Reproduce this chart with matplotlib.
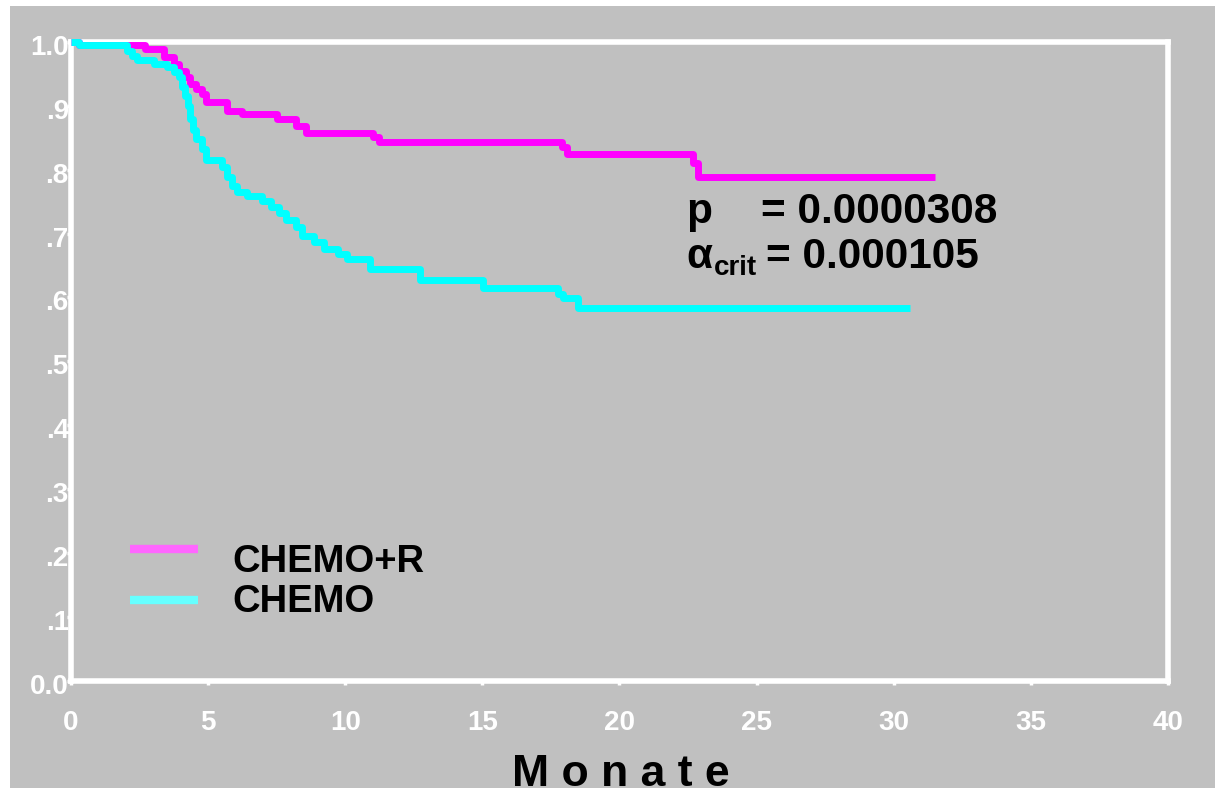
import numpy as np
import matplotlib.pyplot as plt
import matplotlib.transforms as mtransforms
from matplotlib.patches import Rectangle

plt.rcParams['font.family'] = ['Liberation Sans', 'DejaVu Sans']
plt.rcParams['font.weight'] = 'bold'

# Kaplan-Meier steps (months, survival) for both arms
months_chemo_r = [0, 0.3, 2.7, 3.4, 3.76, 3.95, 4.2, 4.35, 4.57, 4.79, 4.93, 5.7, 6.25,
                  7.53, 8.22, 8.58, 11.0, 11.25, 17.9, 18.08, 22.68, 22.85, 31.5]
surv_chemo_r = [1.0, 0.995, 0.989, 0.976, 0.966, 0.955, 0.945, 0.934, 0.926, 0.918, 0.906,
                0.892, 0.887, 0.879, 0.868, 0.857, 0.851, 0.843, 0.835, 0.824, 0.81, 0.788, 0.788]

months_chemo = [0, 0.3, 2.05, 2.23, 2.41, 3.03, 3.51, 3.76, 3.95, 4.05, 4.15, 4.25, 4.35,
                4.45, 4.57, 4.79, 4.93, 5.52, 5.7, 5.88, 6.06, 6.43, 6.98, 7.31, 7.6, 7.85,
                8.22, 8.44, 8.88, 9.24, 9.72, 10.05, 10.89, 12.71, 15.01, 17.75, 17.94, 18.48, 30.6]
surv_chemo = [1.0, 0.995, 0.986, 0.978, 0.972, 0.966, 0.961, 0.953, 0.945, 0.93, 0.915, 0.9,
              0.88, 0.862, 0.848, 0.832, 0.815, 0.804, 0.788, 0.774, 0.765, 0.759, 0.751, 0.741,
              0.733, 0.722, 0.71, 0.696, 0.687, 0.676, 0.668, 0.66, 0.645, 0.628, 0.614, 0.605,
              0.599, 0.583, 0.583]

x_ticks = [0, 5, 10, 15, 20, 25, 30, 35, 40]
y_ticks = [0.0, 0.1, 0.2, 0.3, 0.4, 0.5, 0.6, 0.7, 0.8, 0.9, 1.0]
y_ticklabels = ['0.0', '.1', '.2', '.3', '.4', '.5', '.6', '.7', '.8', '.9', '1.0']

group_names = ['CHEMO+R', 'CHEMO']
p_value = '0.0000308'
alpha_crit = '0.000105'

grey = '#c0c0c0'

fig = plt.figure(figsize=(12.15, 7.9), dpi=100, facecolor='white')
fig.patches.append(Rectangle((10 / 1215, 0.0025), 1 - 10 / 1215, 0.99, transform=fig.transFigure,
                             facecolor=grey, edgecolor='none', zorder=-5))

ax = fig.add_axes([0.0584, 0.1386, 0.9029, 0.8082])
ax.set_facecolor(grey)
for sp in ax.spines.values():
    sp.set_color('white')
    sp.set_linewidth(4)

ax.step(months_chemo_r, surv_chemo_r, where='post', color='#ff00ff', lw=5,
        solid_capstyle='butt', clip_on=False, zorder=3)
ax.step(months_chemo, surv_chemo, where='post', color='#00ffff', lw=5,
        solid_capstyle='butt', clip_on=False, zorder=4)

ax.set_xlim(0, 40)
ax.set_ylim(0, 1)
ax.set_xticks(x_ticks)
ax.set_yticks(y_ticks)
ax.set_yticklabels(y_ticklabels)
ax.tick_params(axis='both', colors='white', direction='out', length=3, width=2.5,
               labelsize=20)
ax.tick_params(axis='x', pad=18)
ax.tick_params(axis='y', pad=0)
for lab in ax.get_xticklabels() + ax.get_yticklabels():
    lab.set_fontweight('bold')
# y labels sit a little below their ticks
shift = mtransforms.ScaledTranslation(0.02, -0.03, fig.dpi_scale_trans)
for lab in ax.get_yticklabels():
    lab.set_transform(lab.get_transform() + shift)

# legend drawn by hand
leg_colors = ['#ff66ff', '#66ffff']
leg_y = [0.206, 0.126]
txt_y = [0.170, 0.107]
for name, c, ly, ty in zip(group_names, leg_colors, leg_y, txt_y):
    ax.plot([0.0538, 0.1158], [ly, ly], color=c, lw=6, solid_capstyle='butt',
            transform=ax.transAxes)
    ax.text(0.1475, ty, name, transform=ax.transAxes, fontsize=27.5, fontweight='bold',
            color='black', va='baseline')

# test statistics
ax.text(22.45, 0.7165, 'p', fontsize=30.5, fontweight='bold', va='baseline')
ax.text(25.15, 0.7165, '= ' + p_value, fontsize=30.5, fontweight='bold', va='baseline')
ax.text(22.45, 0.646, 'α', fontsize=30.5, fontweight='bold', va='baseline')
ax.text(23.45, 0.635, 'crit', fontsize=20, fontweight='bold', va='baseline')
ax.text(25.35, 0.646, '= ' + alpha_crit, fontsize=30.5, fontweight='bold', va='baseline')

fig.text(621 / 1215, 0.005, 'M o n a t e', fontsize=32, fontweight='bold',
         ha='center', va='baseline')

fig.savefig('out.png', dpi=100, facecolor=fig.get_facecolor())
